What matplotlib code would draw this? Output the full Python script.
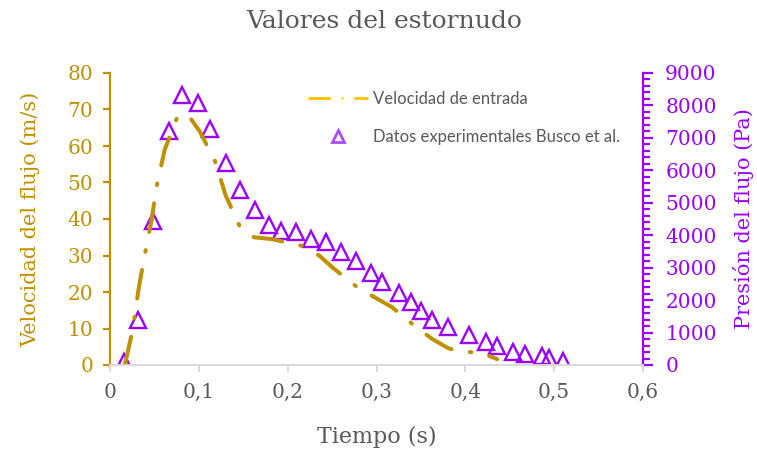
import matplotlib.pyplot as plt
from matplotlib.lines import Line2D
from matplotlib.ticker import MultipleLocator

# velocidad de entrada (curva)
t_vel = [0.0167, 0.0255, 0.0323, 0.039, 0.047, 0.0526, 0.0616, 0.0751, 0.085,
         0.0886, 0.101, 0.118, 0.130, 0.146, 0.162, 0.182, 0.217, 0.236, 0.251,
         0.281, 0.299, 0.317, 0.346, 0.363, 0.380, 0.391, 0.418, 0.436]
v_vel = [0, 9.6, 21, 30, 40, 49, 59, 67.5, 68.8,
         68.3, 64, 56, 46.6, 38, 35, 34.5, 32.6, 29.9, 26.6,
         20.8, 18.4, 15.9, 10.1, 7.1, 4.7, 3.8, 3.3, 1.6]

# datos experimentales Busco et al. (presion)
t_exp = [0.0154, 0.0312, 0.0481, 0.0662, 0.0808, 0.0987, 0.1122, 0.1302,
         0.1460, 0.1629, 0.1786, 0.1921, 0.2090, 0.2259, 0.2428, 0.2597,
         0.2765, 0.2934, 0.3058, 0.3250, 0.3385, 0.3497, 0.3621, 0.3801,
         0.4037, 0.4228, 0.4352, 0.4532, 0.4667, 0.4858, 0.4937, 0.5095]
p_exp = [100, 1390, 4440, 7200, 8320, 8080, 7280, 6230,
         5400, 4780, 4320, 4130, 4090, 3880, 3790, 3480,
         3210, 2840, 2560, 2220, 1940, 1670, 1390, 1170,
         925, 710, 590, 400, 340, 280, 215, 125]

x_ticks = [0, 0.1, 0.2, 0.3, 0.4, 0.5, 0.6]
x_labels = ['0', '0,1', '0,2', '0,3', '0,4', '0,5', '0,6']

gold = '#BF9000'
purple = '#9900FF'
gray = '#595959'
serif = 'DejaVu Serif'

fig = plt.figure(figsize=(7.57, 4.49), dpi=100)
ax = fig.add_axes([110/757, 1 - 365/449, 533/757, 292/449])
ax2 = ax.twinx()

ax.plot(t_vel, v_vel, color=gold, lw=2.9, solid_capstyle='round',
        dash_capstyle='round', linestyle=(0, (7.2, 4.6, 0.4, 4.6)), zorder=2)
ax2.plot(t_exp, p_exp, linestyle='none', marker='^', ms=11.5,
         mfc='none', mec=purple, mew=1.7, zorder=3)
ax.set_zorder(ax2.get_zorder() + 1)
ax.patch.set_visible(False)

ax.set_xlim(0, 0.6)
ax.set_ylim(0, 80)
ax2.set_ylim(0, 9000)
ax.set_xticks(x_ticks)
ax.set_xticklabels(x_labels)
ax.yaxis.set_major_locator(MultipleLocator(10))
ax2.yaxis.set_major_locator(MultipleLocator(1000))
ax2.yaxis.set_minor_locator(MultipleLocator(200))

for a in (ax, ax2):
    a.spines['top'].set_visible(False)
ax.spines['right'].set_visible(False)
ax2.spines['left'].set_visible(False)
ax2.spines['bottom'].set_visible(False)
ax.spines['left'].set_color(gold)
ax.spines['left'].set_linewidth(1.6)
ax.spines['bottom'].set_color('#D9D9D9')
ax.spines['bottom'].set_linewidth(1.4)
ax2.spines['right'].set_color(purple)
ax2.spines['right'].set_linewidth(1.6)

ax.tick_params(axis='x', colors='#D9D9D9', labelcolor=gray, length=5,
               width=1.4, labelsize=14.5, pad=8)
ax.tick_params(axis='y', colors=gold, labelcolor=gold, length=5,
               width=1.6, labelsize=14.5, pad=7)
ax2.tick_params(axis='y', which='major', colors=purple, length=7,
                width=1.6, labelsize=14.5, pad=9)
ax2.tick_params(axis='y', which='minor', colors=purple, length=5, width=1.6)
for lab in ax.get_xticklabels() + ax.get_yticklabels() + ax2.get_yticklabels():
    lab.set_family(serif)

ax.set_xlabel('Tiempo (s)', family=serif, fontsize=16, color=gray, labelpad=17)
ax.set_ylabel('Velocidad del flujo (m/s)', family=serif, fontsize=15,
              color=gold, labelpad=20)
ax2.set_ylabel('Presión del flujo (Pa)', family=serif, fontsize=15,
               color=purple, labelpad=12)
fig.text(384/757, 1 - 22/449, 'Valores del estornudo', family=serif,
         fontsize=18, color=gray, ha='center', va='center')

handles = [
    Line2D([], [], color='#FFC000', lw=2, linestyle=(0, (8, 4, 0.5, 4))),
    Line2D([], [], linestyle='none', marker='^', ms=8, mfc='none',
           mec='#A64DFF', mew=2),
]
labels = ['Velocidad de entrada', 'Datos experimentales Busco et al.']
fig.legend(handles, labels, loc='upper left',
           bbox_to_anchor=(308/757, 1 - 91/449), frameon=False,
           prop={'family': 'Lato', 'size': 12}, labelcolor=gray,
           handlelength=3.6, handletextpad=0.3, labelspacing=1.3,
           borderpad=0, borderaxespad=0)

fig.savefig('out.png', dpi=100)
